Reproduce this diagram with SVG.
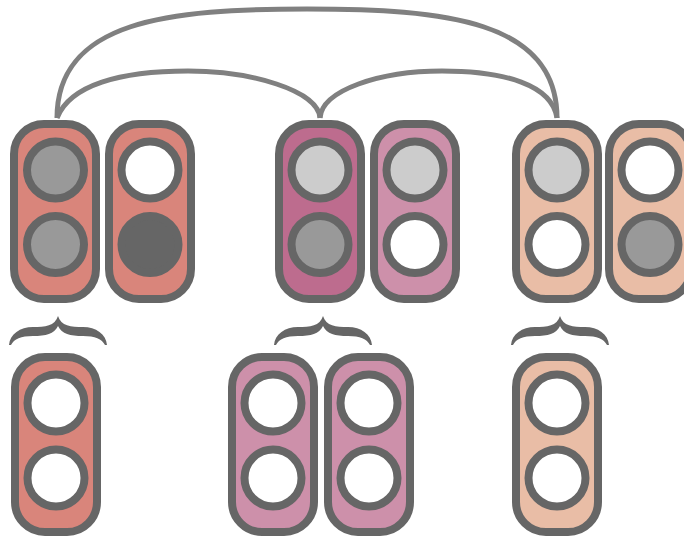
<svg xmlns="http://www.w3.org/2000/svg" width="684" height="537" viewBox="0 0 684 537">
<style>
.box{stroke:#666666;stroke-width:8}
.c{stroke:#666666;stroke-width:8}
.salmon{fill:#d9857b}
.dpink{fill:#bd6c8e}
.lpink{fill:#cd90aa}
.peach{fill:#e9bda6}
.w{fill:#ffffff}
.g{fill:#999999}
.lg{fill:#cccccc}
.d{fill:#666666}
.edge{fill:none;stroke:#808080;stroke-width:5;stroke-linecap:butt}
.brace{fill:#666666}
</style>
<defs>
<path id="brace" d="M-49,345 C-48,334 -38,327 -25,327 C-13,327 -3,326 0,316 C3,326 13,327 25,327 C38,327 48,334 49,345 L47,345 C44,339 37,336 25,336 C12,336 4,334 0,326 C-4,334 -12,336 -25,336 C-37,336 -44,339 -47,345 Z"/>
</defs>
<rect width="684" height="537" fill="#ffffff"/>
<g id="connectors">
<path class="edge" d="M57,118 C57,20 170,9 307,9 C444,9 557,20 557,118"/>
<path class="edge" d="M57,118 C70,85 120,71 188,71 C250,71 318,90 320,118"/>
<path class="edge" d="M320,118 C322,90 380,71 442,71 C505,71 552,85 557,118"/>
</g>
<g id="top1"><rect class="box salmon" x="14" y="124" width="82" height="175" rx="30"/><circle class="c g" cx="55.5" cy="170" r="28.5"/><circle class="c g" cx="55.5" cy="244.5" r="28.5"/></g>
<g id="top2"><rect class="box salmon" x="109" y="124" width="82" height="175" rx="30"/><circle class="c w" cx="150" cy="170" r="28.5"/><circle class="c d" cx="150" cy="244.5" r="28.5"/></g>
<g id="top3"><rect class="box dpink" x="279" y="124" width="82" height="175" rx="30"/><circle class="c lg" cx="320" cy="170" r="28.5"/><circle class="c g" cx="320" cy="244.5" r="28.5"/></g>
<g id="top4"><rect class="box lpink" x="374" y="124" width="82" height="175" rx="30"/><circle class="c lg" cx="415" cy="170" r="28.5"/><circle class="c w" cx="415" cy="244.5" r="28.5"/></g>
<g id="top5"><rect class="box peach" x="516" y="124" width="82" height="175" rx="30"/><circle class="c lg" cx="557" cy="170" r="28.5"/><circle class="c w" cx="557" cy="244.5" r="28.5"/></g>
<g id="top6"><rect class="box peach" x="609" y="124" width="82" height="175" rx="30"/><circle class="c w" cx="650" cy="170" r="28.5"/><circle class="c g" cx="650" cy="244.5" r="28.5"/></g>
<g id="brace1"><use href="#brace" class="brace" transform="translate(58,0)"/></g>
<g id="brace2"><use href="#brace" class="brace" transform="translate(323,0)"/></g>
<g id="brace3"><use href="#brace" class="brace" transform="translate(560,0)"/></g>
<g id="bot1"><rect class="box salmon" x="15" y="357" width="82" height="175" rx="30"/><circle class="c w" cx="56" cy="403" r="28.5"/><circle class="c w" cx="56" cy="478" r="28.5"/></g>
<g id="bot2"><rect class="box lpink" x="232" y="357" width="82" height="175" rx="30"/><circle class="c w" cx="273" cy="403" r="28.5"/><circle class="c w" cx="273" cy="478" r="28.5"/></g>
<g id="bot3"><rect class="box lpink" x="328" y="357" width="82" height="175" rx="30"/><circle class="c w" cx="369" cy="403" r="28.5"/><circle class="c w" cx="369" cy="478" r="28.5"/></g>
<g id="bot4"><rect class="box peach" x="516" y="357" width="82" height="175" rx="30"/><circle class="c w" cx="557" cy="403" r="28.5"/><circle class="c w" cx="557" cy="478" r="28.5"/></g>
</svg>
